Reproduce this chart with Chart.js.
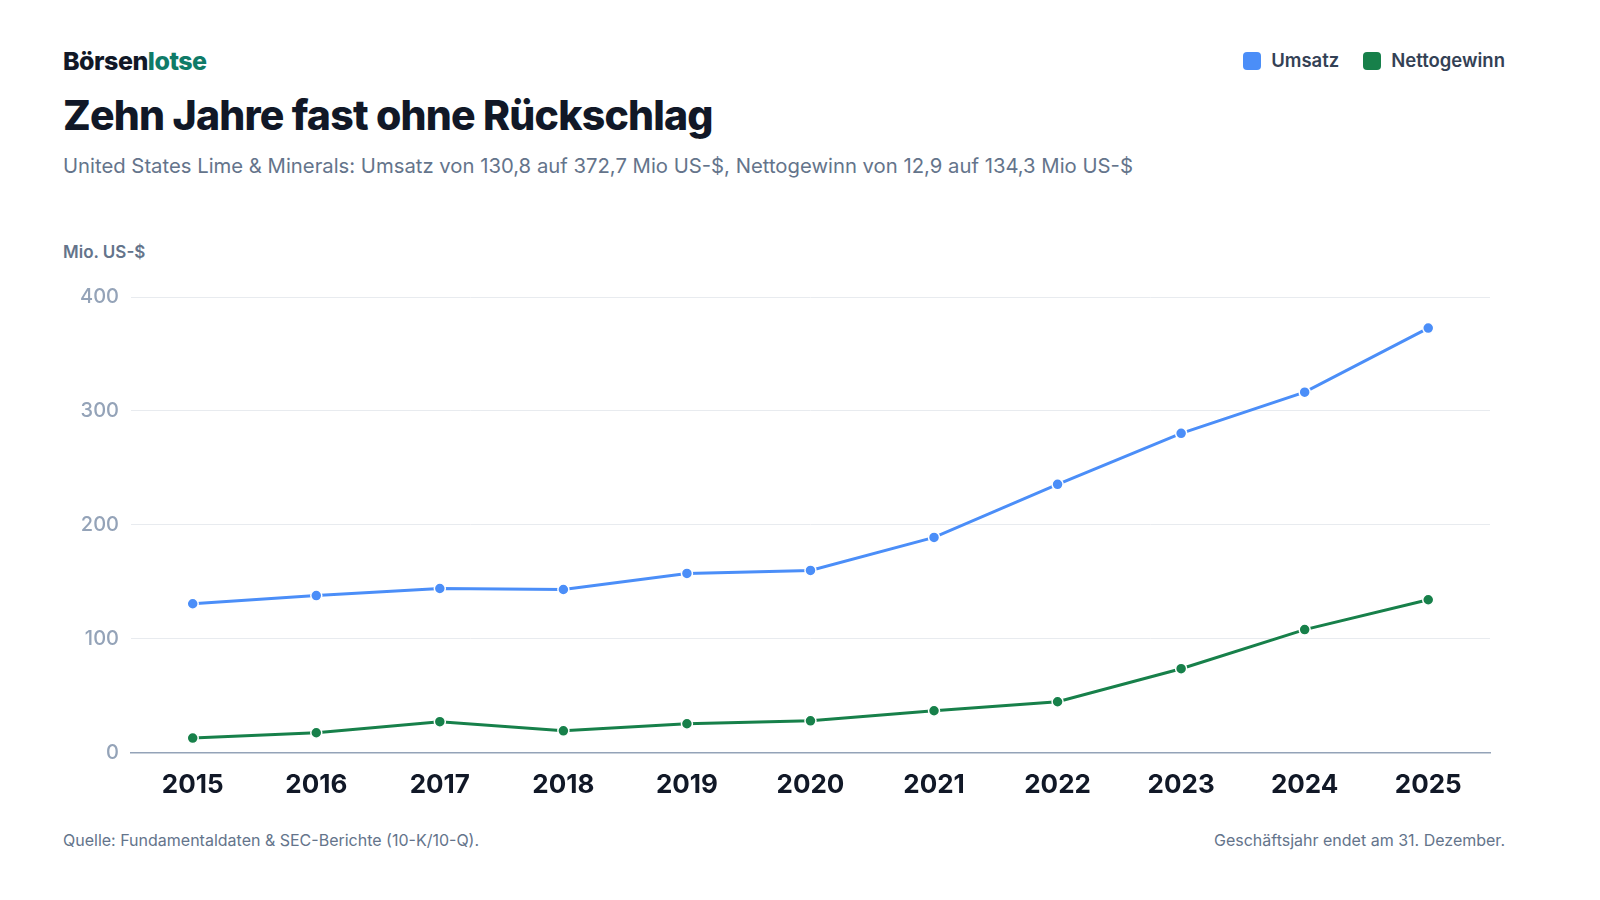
<!DOCTYPE html>
<html><head><meta charset="utf-8">
<script src="https://cdn.jsdelivr.net/npm/chart.js@4.4.1/dist/chart.umd.min.js"></script>
<style>
body{margin:0;width:1600px;height:900px;background:#fff;font-family:Inter,sans-serif;position:relative;overflow:hidden}
.abs{position:absolute}
#brand{left:63px;top:46px;font-size:25px;font-weight:800;color:#111827;letter-spacing:-0.5px}
#brand span{color:#0f7b68}
#title{left:63px;top:90px;font-size:41px;font-weight:800;color:#111827;letter-spacing:-0.8px}
#sub{left:63px;top:153px;font-size:20.3px;color:#64748b}
#unit{left:63px;top:242px;font-size:17px;font-weight:600;color:#64748b}
#legend{right:95px;top:49px;font-size:18.5px;font-weight:600;color:#334155;display:flex;gap:24px}
#legend i{display:inline-block;width:18px;height:18px;border-radius:4px;vertical-align:-3px;margin-right:10px}
#src{left:63px;top:830px;font-size:16px;color:#64748b}
#fy{right:95px;top:830px;font-size:16px;color:#64748b}
#wrap{left:68px;top:273px;width:1429px;height:537px}
</style></head><body>
<div id="brand" class="abs">Börsen<span>lotse</span></div>
<div id="title" class="abs">Zehn Jahre fast ohne Rückschlag</div>
<div id="sub" class="abs">United States Lime &amp; Minerals: Umsatz von 130,8 auf 372,7 Mio US-$, Nettogewinn von 12,9 auf 134,3 Mio US-$</div>
<div id="unit" class="abs">Mio. US-$</div>
<div id="legend" class="abs"><div><i style="background:#4b8ef8"></i>Umsatz</div><div><i style="background:#17804a"></i>Nettogewinn</div></div>
<div id="wrap" class="abs"><canvas id="c"></canvas></div>
<div id="src" class="abs">Quelle: Fundamentaldaten &amp; SEC-Berichte (10-K/10-Q).</div>
<div id="fy" class="abs">Geschäftsjahr endet am 31. Dezember.</div>
<script>
var years = ['2015', '2016', '2017', '2018', '2019', '2020', '2021', '2022', '2023', '2024', '2025'];
var umsatz = [130.8, 138.0, 144.2, 143.3, 157.4, 160.0, 189.0, 235.6, 280.4, 316.5, 372.7];
var nettogewinn = [12.9, 17.6, 27.3, 19.3, 25.5, 28.1, 36.9, 44.8, 73.8, 108.1, 134.3];
var yTicks = [0, 100, 200, 300, 400];

new Chart(document.getElementById('c'), {
    type: 'line',
    data: {
        labels: years,
        datasets: [
            {label: 'Umsatz', data: umsatz, borderColor: '#4b8ef8', backgroundColor: '#4b8ef8',
             borderWidth: 3, pointRadius: 5.5, pointBorderColor: '#fff', pointBorderWidth: 1.5, tension: 0},
            {label: 'Nettogewinn', data: nettogewinn, borderColor: '#17804a', backgroundColor: '#17804a',
             borderWidth: 3, pointRadius: 5.5, pointBorderColor: '#fff', pointBorderWidth: 1.5, tension: 0}
        ]
    },
    options: {
        responsive: true,
        maintainAspectRatio: false,
        animation: false,
        layout: {padding: {top: 8, right: 0}},
        plugins: {legend: {display: false}, tooltip: {enabled: false}},
        scales: {
            x: {
                offset: true,
                grid: {display: false},
                border: {color: '#94a3b8', width: 1.5},
                ticks: {color: '#111827', font: {family: 'Inter', size: 26, weight: '700'}, padding: 9}
            },
            y: {
                min: 0, max: 400,
                afterBuildTicks: function (s) { s.ticks = yTicks.map(function (v) { return {value: v}; }); },
                grid: {color: '#e8ebef', drawTicks: false},
                border: {display: false},
                ticks: {color: '#94a3b8', font: {family: 'Inter', size: 20, weight: '500'}, padding: 12}
            }
        }
    }
});
</script>
</body></html>
